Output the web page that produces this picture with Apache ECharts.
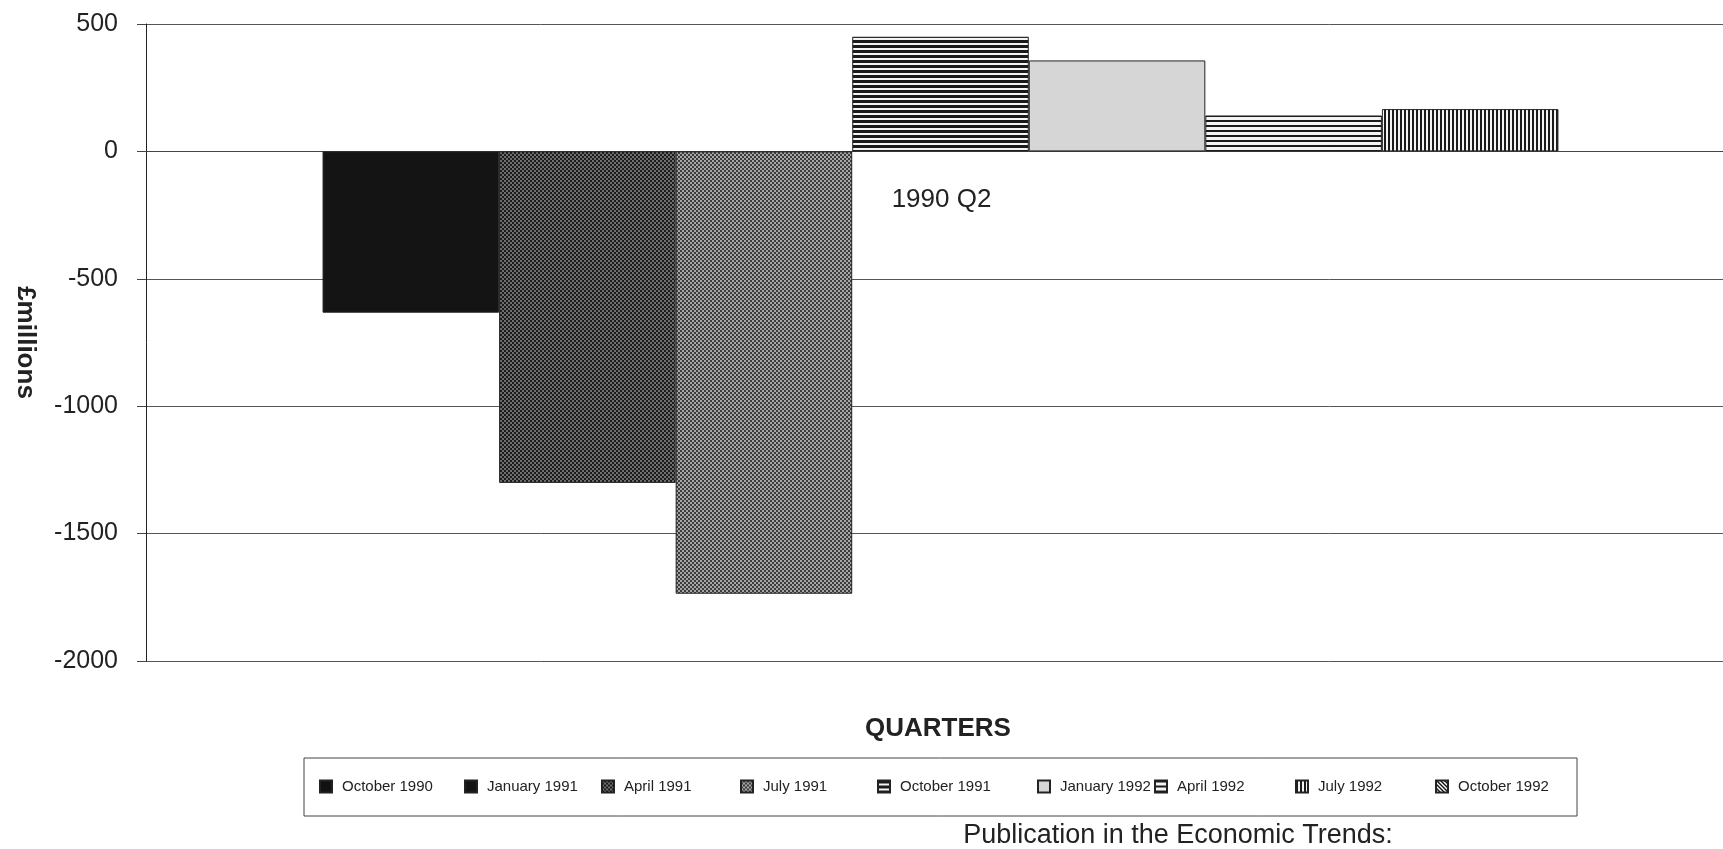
<!DOCTYPE html>
<html>
<head>
<meta charset="utf-8">
<title>1990 Q2 revisions</title>
<script src="https://cdn.jsdelivr.net/npm/echarts@6/dist/echarts.min.js"></script>
<style>
  html, body { margin: 0; padding: 0; background: #fff; }
  #chart { width: 1723px; height: 849px; }
</style>
</head>
<body>
<div id="chart"></div>
<script>
// quarter shown on the x axis
var categories = ['1990 Q2']
// publication dates of Economic Trends (one series each)
var publications = ['October 1990', 'January 1991', 'April 1991', 'July 1991', 'October 1991',
  'January 1992', 'April 1992', 'July 1992', 'October 1992']
// £ millions (no bar for Oct 1990 / Oct 1992)
var revisions = [null, -633, -1301, -1736, 450, 357, 141, 166, null]
// y axis ticks
var yTicks = { min: -2000, max: 500, step: 500 }

var FONT = '"Liberation Sans", Arial, sans-serif'
// plot area runs a little past the right edge of the page, as in the scan
var GRID = { left: 146, top: 24, width: 1589, height: 637 }
// where each legend entry starts (Excel spaced them unevenly)
var legendX = [319, 464, 601, 740, 877, 1037, 1154, 1295, 1435]

// small canvas tiles used as fill patterns, like the old Excel hatches
function tile(w, h, draw) {
  var c = document.createElement('canvas')
  c.width = w
  c.height = h
  var ctx = c.getContext('2d')
  draw(ctx)
  return { image: c, repeat: 'repeat' }
}

function checker(dark, light) {
  return tile(4, 4, function(ctx) {
    ctx.fillStyle = dark
    ctx.fillRect(0, 0, 4, 4)
    ctx.fillStyle = light
    ctx.fillRect(0, 0, 2, 2)
    ctx.fillRect(2, 2, 2, 2)
  })
}

function hLines(line, gap, lineH, period) {
  return tile(4, period, function(ctx) {
    ctx.fillStyle = gap
    ctx.fillRect(0, 0, 4, period)
    ctx.fillStyle = line
    ctx.fillRect(0, 0, 4, lineH)
  })
}

function vLines(line, gap, lineW, period) {
  return tile(period, 4, function(ctx) {
    ctx.fillStyle = gap
    ctx.fillRect(0, 0, period, 4)
    ctx.fillStyle = line
    ctx.fillRect(0, 0, lineW, 4)
  })
}

function diagLines() {
  return tile(4, 4, function(ctx) {
    ctx.fillStyle = '#fff'
    ctx.fillRect(0, 0, 4, 4)
    ctx.fillStyle = '#111'
    for (var i = 0; i < 4; i++) {
      ctx.fillRect(i, i, 1, 1)
      ctx.fillRect((i + 1) % 4, i, 1, 1)
    }
  })
}

var fills = [
  '#111111',
  '#141414',
  checker('#1c1c1c', '#6e6e6e'),
  checker('#3c3c3c', '#a6a6a6'),
  hLines('#1a1a1a', '#f4f4f4', 3, 5),
  '#d6d6d6',
  hLines('#1a1a1a', '#f4f4f4', 2, 5),
  vLines('#1a1a1a', '#f4f4f4', 2, 4),
  diagLines()
]

function initChart() {
  var chart = echarts.init(document.getElementById('chart'))
  setOptions(chart)
  return chart
}

function setOptions(chart) {
  // y position of the zero line, so the category label sits just under it
  var zeroY = GRID.top + GRID.height * yTicks.max / (yTicks.max - yTicks.min)
  var xOffset = -(GRID.top + GRID.height - zeroY)

  chart.setOption({
    animation: false,
    backgroundColor: '#fff',
    textStyle: { fontFamily: FONT },
    title: [
      {
        text: 'QUARTERS',
        left: 938,
        top: 716,
        textAlign: 'center',
        padding: 0,
        textStyle: { fontFamily: FONT, fontSize: 26, fontWeight: 'bold', color: '#222' }
      },
      {
        text: 'Publication in the Economic Trends:',
        left: 1178,
        top: 822,
        textAlign: 'center',
        padding: 0,
        textStyle: { fontFamily: FONT, fontSize: 27, fontWeight: 'normal', color: '#222' }
      }
    ],
    graphic: [{
      type: 'rect',
      shape: { x: 304, y: 758, width: 1273, height: 58 },
      style: { fill: 'none', stroke: '#444', lineWidth: 1 },
      silent: true
    }],
    legend: publications.map(function(name, i) {
      return {
        left: legendX[i],
        top: 779,
        padding: 0,
        icon: 'rect',
        itemWidth: 12,
        itemHeight: 12,
        textStyle: {
          fontFamily: FONT,
          fontSize: 15,
          color: '#222',
          padding: [0, 0, 0, 5]
        },
        data: [name]
      }
    }),
    grid: {
      left: GRID.left,
      top: GRID.top,
      width: GRID.width,
      height: GRID.height,
      outerBoundsMode: 'none',
      containLabel: false
    },
    xAxis: {
      type: 'category',
      data: categories,
      position: 'bottom',
      offset: xOffset,
      axisLine: { show: true, onZero: false, lineStyle: { color: '#444', width: 1 } },
      axisTick: { show: false },
      axisLabel: {
        fontFamily: FONT,
        fontSize: 26,
        color: '#222',
        margin: 35,
        padding: [0, 0, 0, 2]
      },
      splitLine: { show: false }
    },
    yAxis: {
      type: 'value',
      min: yTicks.min,
      max: yTicks.max,
      interval: yTicks.step,
      name: '£millions',
      nameLocation: 'middle',
      nameRotate: -90,
      nameGap: 108,
      nameTextStyle: { fontFamily: FONT, fontSize: 26, fontWeight: 'bold', color: '#222' },
      axisLine: { show: true, lineStyle: { color: '#222', width: 1 } },
      axisTick: { show: true, inside: false, length: 9, lineStyle: { color: '#444' } },
      axisLabel: {
        fontFamily: FONT,
        fontSize: 25,
        color: '#222',
        margin: 28,
        formatter: function(v) { return String(v) }
      },
      splitLine: { show: true, lineStyle: { color: '#555', width: 1 } }
    },
    series: publications.map(function(name, i) {
      return {
        name: name,
        type: 'bar',
        barGap: '0%',
        barCategoryGap: '0%',
        itemStyle: {
          color: fills[i],
          borderColor: '#222',
          borderWidth: 1
        },
        data: [revisions[i]]
      }
    })
  })
}

initChart()
</script>
</body>
</html>
